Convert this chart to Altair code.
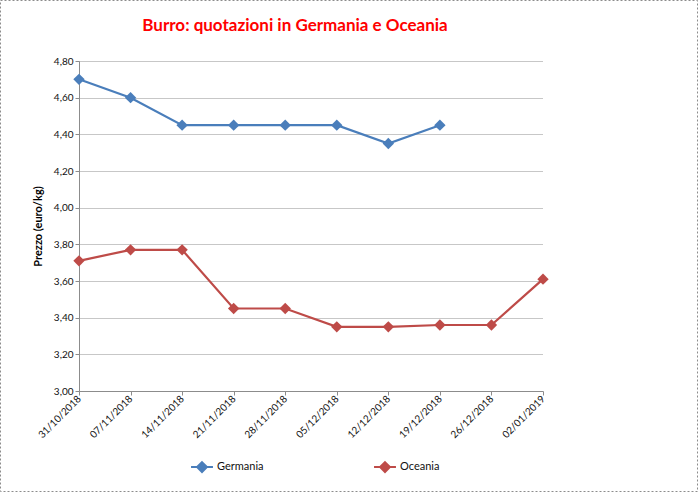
import altair as alt
import pandas as pd

dates = ["31/10/2018", "07/11/2018", "14/11/2018", "21/11/2018", "28/11/2018",
         "05/12/2018", "12/12/2018", "19/12/2018", "26/12/2018", "02/01/2019"]
germania = [4.70, 4.60, 4.45, 4.45, 4.45, 4.45, 4.35, 4.45, None, None]
oceania = [3.71, 3.77, 3.77, 3.45, 3.45, 3.35, 3.35, 3.36, 3.36, 3.61]
series_names = ["Germania", "Oceania"]
colors = ["#4A7EBB", "#BE4B48"]
title_text = "Burro: quotazioni in Germania e Oceania"

rows = []
for d, g, o in zip(dates, germania, oceania):
    if g is not None:
        rows.append({"data": d, "serie": "Germania", "prezzo": g})
    if o is not None:
        rows.append({"data": d, "serie": "Oceania", "prezzo": o})
df = pd.DataFrame(rows)

FONT = "Lato"
W, H = 698, 492
PLOT_W, PLOT_H = 464, 330
PAD_L, PAD_T = 79, 61

legend_symbol = "M-1,0L1,0M0,-0.45L0.45,0L0,0.45L-0.45,0Z"

lines = alt.Chart(df).mark_line(
    strokeWidth=2.2,
    point=alt.OverlayMarkDef(shape="diamond", size=130, filled=True, strokeWidth=0.8),
).encode(
    x=alt.X("data:N", sort=dates, scale=alt.Scale(type="point", padding=0),
            axis=alt.Axis(title=None, labelAngle=-45, labelAlign="right", labelBaseline="middle",
                          labelFont=FONT, labelFontSize=10, labelColor="#111111",
                          domainColor="#8c8c8c", tickColor="#8c8c8c", tickSize=4,
                          labelPadding=2, grid=False, labelOverlap=False)),
    y=alt.Y("prezzo:Q", scale=alt.Scale(domain=[3.0, 4.8], nice=False, zero=False),
            axis=alt.Axis(title="Prezzo (euro/kg)", values=[3.0, 3.2, 3.4, 3.6, 3.8, 4.0, 4.2, 4.4, 4.6, 4.8],
                          labelExpr="replace(format(datum.value, '.2f'), '.', ',')",
                          labelFont=FONT, labelFontSize=10, labelColor="#111111",
                          titleFont=FONT, titleFontSize=11, titleFontWeight="bold", titleColor="#000000",
                          titlePadding=10,
                          domainColor="#8c8c8c", tickColor="#8c8c8c", tickSize=4,
                          gridColor="#8f8f8f", gridWidth=1, gridDash=[1, 1])),
    color=alt.Color("serie:N", scale=alt.Scale(domain=series_names, range=colors),
                    legend=alt.Legend(title=None, orient="none", legendX=111, legendY=394,
                                      direction="horizontal", symbolType=legend_symbol,
                                      symbolSize=480, symbolStrokeWidth=2,
                                      labelFont=FONT, labelFontSize=11, labelColor="#111111",
                                      labelOffset=3, columnPadding=106, symbolOffset=0)),
)

border = alt.Chart(pd.DataFrame({"k": [0]})).mark_rect(
    fill=None, stroke="#8c8c8c", strokeDash=[2, 2], strokeWidth=1
).encode(
    x=alt.value(-PAD_L + 0.5), x2=alt.value(W - PAD_L - 0.5),
    y=alt.value(-PAD_T + 0.5), y2=alt.value(H - PAD_T - 0.5),
)

title = alt.Chart(pd.DataFrame({"t": [title_text]})).mark_text(
    font=FONT, fontSize=17, fontWeight="bold", color="#FF0000", align="center", baseline="middle"
).encode(
    x=alt.value(295 - PAD_L), y=alt.value(26 - PAD_T), text="t:N"
)

chart = alt.layer(border, lines, title).properties(
    width=PLOT_W, height=PLOT_H,
    background="white",
    autosize=alt.AutoSizeParams(type="none"),
    padding={"left": PAD_L, "top": PAD_T, "right": W - PAD_L - PLOT_W, "bottom": H - PAD_T - PLOT_H},
).configure_view(strokeWidth=0, stroke="transparent")

chart.save("out.html", embed_options={"renderer": "svg", "actions": False})
